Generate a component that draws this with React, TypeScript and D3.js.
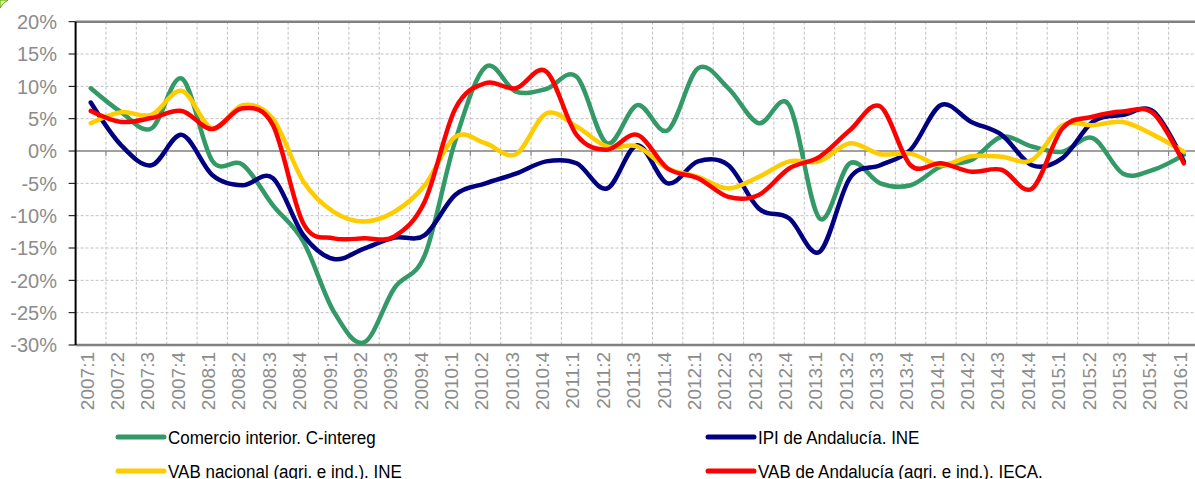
import React from 'react';
import * as d3 from 'd3';

const quarters = [
  '2007:1', '2007:2', '2007:3', '2007:4', '2008:1', '2008:2', '2008:3', '2008:4',
  '2009:1', '2009:2', '2009:3', '2009:4', '2010:1', '2010:2', '2010:3', '2010:4',
  '2011:1', '2011:2', '2011:3', '2011:4', '2012:1', '2012:2', '2012:3', '2012:4',
  '2013:1', '2013:2', '2013:3', '2013:4', '2014:1', '2014:2', '2014:3', '2014:4',
  '2015:1', '2015:2', '2015:3', '2015:4', '2016:1',
];

const comercio = [
  9.7, 6.0, 3.5, 11.2, -1.5, -2.1, -8.4, -14.0, -24.8, -29.6, -21.2, -16.1,
  1.5, 13.0, 9.2, 9.6, 11.5, 1.2, 7.1, 3.2, 12.8, 9.7, 4.3, 7.1,
  -10.4, -1.9, -5.0, -5.3, -2.4, -1.4, 2.2, 0.7, -0.1, 2.0, -3.5, -2.9, -0.6,
];

const ipi = [
  7.5, 0.9, -2.2, 2.5, -3.7, -5.3, -4.2, -13.0, -16.7, -15.1, -13.4, -13.0,
  -6.8, -5.0, -3.5, -1.6, -1.9, -5.8, 0.9, -5.0, -1.6, -2.2, -8.9, -10.4,
  -15.6, -4.2, -2.2, 0.2, 7.1, 4.5, 2.5, -2.2, -1.1, 4.5, 5.6, 6.1, -1.6,
];

const vabNacional = [
  4.3, 6.0, 5.6, 9.3, 3.5, 7.1, 5.0, -4.7, -9.4, -10.9, -9.4, -5.3,
  2.2, 1.2, -0.5, 5.8, 3.8, 0.7, 0.7, -2.7, -4.0, -5.8, -4.0, -1.6,
  -1.6, 1.2, -0.5, -0.4, -2.2, -0.8, -0.9, -1.4, 4.0, 4.0, 4.5, 2.5, -0.1,
];

const vabAndalucia = [
  6.2, 4.5, 5.1, 6.2, 3.4, 6.6, 4.0, -11.2, -13.5, -13.5, -13.2, -7.8,
  6.5, 10.5, 9.7, 12.3, 2.5, 0.2, 2.5, -2.7, -4.2, -7.1, -6.8, -2.7,
  -0.9, 3.2, 6.9, -2.2, -1.9, -3.2, -2.9, -5.8, 3.5, 5.3, 6.1, 5.8, -1.9,
];

const yTicks = [20, 15, 10, 5, 0, -5, -10, -15, -20, -25, -30];

const seriesNames = [
  'Comercio interior. C-intereg',
  'IPI de Andalucía. INE',
  'VAB nacional (agri. e ind.). INE',
  'VAB de Andalucía (agri. e ind.). IECA.',
];
const seriesValues = [comercio, ipi, vabNacional, vabAndalucia];
const seriesColors = ['#339966', '#000080', '#ffcc00', '#ff0000'];

const W = 1195;
const H = 479;
const left = 75.6;
const right = 1199;
const top = 21.7;
const bottom = 345;

const App = () => {
  const x = d3.scaleBand<string>().domain(quarters).range([left, right]).padding(0);
  const y = d3.scaleLinear().domain([-30, 20]).range([bottom, top]);
  const cx = (q: string) => (x(q) as number) + x.bandwidth() / 2;

  const line = d3.line<number>()
    .x((_, i) => cx(quarters[i]))
    .y(d => y(d))
    .curve(d3.curveCardinal.tension(0));

  const boundaries = quarters.map(q => x(q) as number).slice(1).concat([right]);
  const legendX = [118, 708];
  const legendY = [437, 471];

  return (
    <svg width={W} height={H} style={{ position: 'absolute', left: 0, top: 0, background: '#fff' }}
      fontFamily="Liberation Sans, Arial, sans-serif">
      {/* corner marker */}
      <path d="M0,8 Q3,3 8,0 L0,0 Z" fill="#ccff66" stroke="#669933" strokeWidth={1} />

      {/* horizontal gridlines */}
      {yTicks.filter(t => t !== 0 && t !== 20 && t !== -30).map(t => (
        <line key={'h' + t} x1={left} x2={right} y1={y(t)} y2={y(t)}
          stroke="#c0c0c0" strokeWidth={1} strokeDasharray="3,2" />
      ))}
      {/* vertical gridlines */}
      {boundaries.map((b, i) => (
        <line key={'v' + i} x1={b} x2={b} y1={top} y2={bottom}
          stroke="#c0c0c0" strokeWidth={1} strokeDasharray="3,2" />
      ))}

      {/* borders */}
      <line x1={left} x2={right} y1={top} y2={top} stroke="#808080" strokeWidth={2.5} />
      <line x1={left} x2={right} y1={bottom} y2={bottom} stroke="#808080" strokeWidth={2.5} />

      {/* zero axis with ticks */}
      <line x1={left} x2={right} y1={y(0)} y2={y(0)} stroke="#808080" strokeWidth={1.3} />
      {boundaries.map((b, i) => (
        <line key={'t' + i} x1={b} x2={b} y1={y(0)} y2={y(0) + 5} stroke="#808080" strokeWidth={1} />
      ))}

      {/* y axis */}
      <line x1={left} x2={left} y1={top} y2={bottom} stroke="#000" strokeWidth={2} />
      {yTicks.map(t => (
        <g key={'y' + t}>
          <line x1={left - 7} x2={left} y1={y(t)} y2={y(t)} stroke="#000" strokeWidth={1} />
          <text x={57} y={y(t)} dy="0.36em" textAnchor="end" fontSize={20} fill="#8c8c8c">
            {t + '%'}
          </text>
        </g>
      ))}

      {/* x labels */}
      {quarters.map(q => (
        <text key={q} transform={`translate(${cx(q) - 4},352) rotate(-90)`}
          textAnchor="end" dy="0.36em" fontSize={19} fill="#8c8c8c">
          {q}
        </text>
      ))}

      {/* series */}
      {seriesValues.map((vals, i) => (
        <path key={seriesNames[i]} d={line(vals) || ''} fill="none"
          stroke={seriesColors[i]} strokeWidth={4.5} strokeLinejoin="round" strokeLinecap="round" />
      ))}

      {/* legend */}
      {seriesNames.map((name, i) => {
        const lx = legendX[i % 2];
        const ly = legendY[Math.floor(i / 2)];
        return (
          <g key={'l' + i}>
            <line x1={lx} x2={lx + 46} y1={ly} y2={ly} stroke={seriesColors[i]} strokeWidth={5} strokeLinecap="round" />
            <text transform={`translate(${lx + 50},${ly}) scale(1,1.12)`} dy="0.36em" fontSize={17} fill="#000">
              {name}
            </text>
          </g>
        );
      })}
    </svg>
  );
};

export default App;
